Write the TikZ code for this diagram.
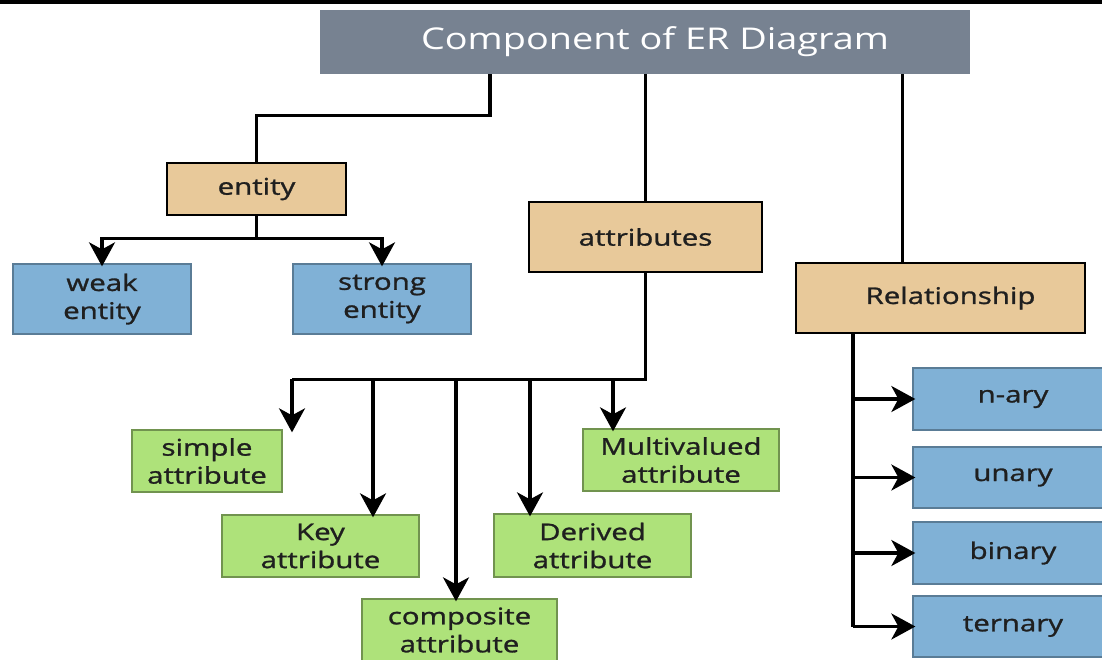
\documentclass[tikz,border=0pt]{standalone}
\usepackage{fontspec}
\setmainfont{Open Sans}
\newfontfamily\boxfont[FakeStretch=1.28, FakeBold=1.2]{Open Sans}
\newfontfamily\headfont[FakeStretch=1.26]{Open Sans}
\usetikzlibrary{arrows.meta}
\definecolor{headgray}{HTML}{778291}
\definecolor{catfill}{HTML}{E8C99A}
\definecolor{kindfill}{HTML}{80B1D6}
\definecolor{attrfill}{HTML}{AEE27A}

\begin{document}
\begin{tikzpicture}[x=1pt, y=-1pt, every node/.style={font=\boxfont\fontsize{23}{28}\selectfont, inner sep=0pt, align=center, text=black!88}, wire/.style={line width=3.2pt}, arr/.style={wire, -{Stealth[length=24pt 0 0, width=26pt 0 0, inset=7pt 0 0]}, shorten >=-3pt}, head/.style={fill=headgray, text=white, font=\headfont\fontsize{30}{34}\selectfont}, cat/.style={draw=black, line width=2.6pt, fill=catfill}, kind/.style={draw=kindfill!70!black, line width=1.3pt, fill=kindfill}, attr/.style={draw=attrfill!65!black, line width=1.3pt, fill=attrfill}]
	\useasboundingbox (0,0) rectangle (1102,659);
	\clip (0,0) rectangle (1102,659);
	\fill[black] (0,0) rectangle (1102,4);
	\node[head, minimum width=650pt, minimum height=64pt] (title) at (645,42) {\hspace*{20pt}Component of ER Diagram};
	\node[cat, minimum width=179pt, minimum height=52pt] (ent) at (256.5,189) {entity};
	\node[cat, minimum width=233pt, minimum height=70pt] (attrs) at (645.5,237) {attributes};
	\node[cat, minimum width=289pt, minimum height=70pt] (rel) at (940.5,298) {\hspace*{20pt}Relationship};
	\node[kind, minimum width=178pt, minimum height=70pt] (weak) at (102,299) {weak\\entity};
	\node[kind, minimum width=178pt, minimum height=70pt] (strong) at (382,299) {strong\\entity};
	\node[attr, minimum width=150pt, minimum height=62pt] (simple) at (207,461) {simple\\attribute};
	\node[attr, minimum width=197pt, minimum height=62pt] (key) at (320.5,546) {Key\\attribute};
	\node[attr, minimum width=195pt, minimum height=62pt] (comp) at (459.5,630) {composite\\attribute};
	\node[attr, minimum width=197pt, minimum height=63pt] (der) at (592.5,545.5) {Derived\\attribute};
	\node[attr, minimum width=196pt, minimum height=62pt] (multi) at (681,460) {Multivalued\\attribute};
	\node[kind, minimum width=200pt, minimum height=62pt] (nary) at (1013,399) {n-ary};
	\node[kind, minimum width=200pt, minimum height=61pt] (unary) at (1013,477.5) {unary};
	\node[kind, minimum width=200pt, minimum height=62pt] (bin) at (1013,553) {binary};
	\node[kind, minimum width=200pt, minimum height=61pt] (tern) at (1013,626.5) {ternary};
	\coordinate (tEnt) at ([xshift=-155pt]title.south);
	\coordinate (tRel) at ([xshift=-38pt]rel.north);
	\draw[wire] (tEnt) -- ++(0,41) -| (ent.north);
	\draw[wire] (title.south -| attrs.north) -- (attrs.north);
	\draw[wire] (tRel |- title.south) -- (tRel);
	\draw[wire] (ent.south) -- ++(0,22) coordinate (eBus);
	\draw[arr] (eBus) -| (weak.north);
	\draw[arr] (eBus) -| (strong.north);
	\coordinate (sTip) at ([xshift=85pt]simple.north);
	\coordinate (kTip) at ([xshift=52.5pt]key.north);
	\coordinate (cTip) at ([xshift=-3.5pt]comp.north);
	\coordinate (dTip) at ([xshift=-62.5pt]der.north);
	\coordinate (mTip) at ([xshift=-68pt]multi.north);
	\draw[wire] (attrs.south) -- ++(0,106) coordinate (aBus) -- (sTip |- aBus);
	\foreach \t in {sTip, kTip, cTip, dTip, mTip} {\draw[arr] (\t |- aBus) -- (\t);}
	\coordinate (rTop) at ([xshift=-87.5pt]rel.south);
	\draw[wire] (rTop) -- (rTop |- tern.west);
	\foreach \n in {nary, unary, bin, tern} {\draw[arr] (rTop |- \n.west) -- (\n.west);}
\end{tikzpicture}
\end{document}
